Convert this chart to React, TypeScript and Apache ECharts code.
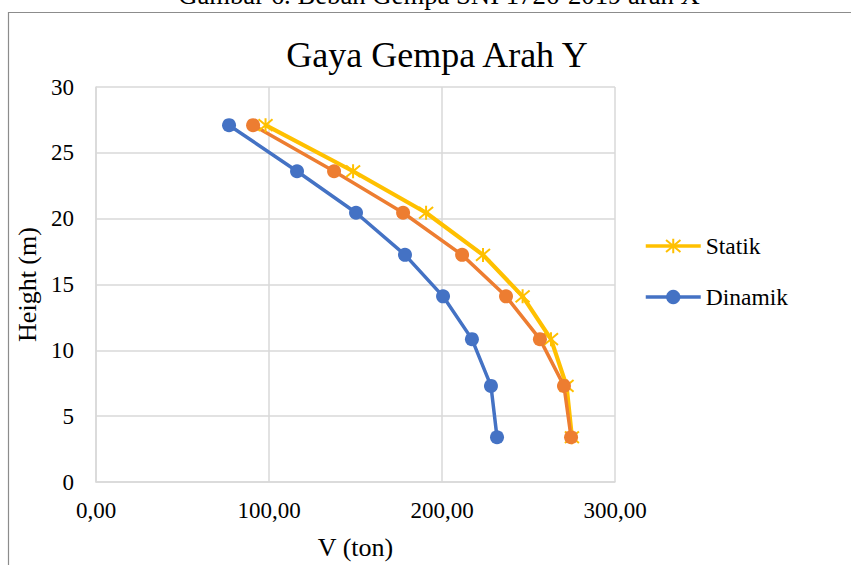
import React, { useEffect, useRef } from "react";
import * as echarts from "echarts";

const heights = [3.4, 7.3, 10.85, 14.1, 17.25, 20.45, 23.6, 27.1];
const statik = [275.1, 272.0, 263.0, 246.6, 223.7, 190.8, 148.6, 98.0];
const respons = [274.6, 270.5, 256.6, 237.0, 211.6, 177.5, 137.6, 90.8];
const dinamik = [231.8, 228.3, 217.3, 200.6, 178.6, 150.3, 116.2, 76.9];

const chartTitle = "Gaya Gempa Arah Y";
const captionText = "Gambar 6. Beban Gempa SNI 1726-2019 arah X";
const xName = "V (ton)";
const yName = "Height (m)";

const FONT = "Liberation Serif";

const pairs = (xs: number[]) => xs.map((v, i) => [v, heights[i]]);

export default function App() {
  const ref = useRef<HTMLDivElement>(null);
  useEffect(() => {
    document.body.style.margin = "0";
    const chart = echarts.init(ref.current!, null, { renderer: "svg" });
    const star = "path://M0,0L10,10M10,0L0,10M5,-1L5,11";
    const legendBase = {
      left: 644,
      orient: "vertical",
      padding: 0,
      itemWidth: 55,
      itemHeight: 18,
      textStyle: { fontFamily: FONT, fontSize: 23.5, color: "#000", lineHeight: 24 },
      lineStyle: { width: 3.5 },
      selectedMode: false,
    };
    chart.setOption({
      animation: false,
      backgroundColor: "#ffffff",
      textStyle: { fontFamily: FONT },
      grid: { left: 96, top: 87, width: 519, height: 402, containLabel: false },
      graphic: [
        {
          type: "rect",
          shape: { x: 8.5, y: 12.5, width: 1000, height: 1000 },
          style: { fill: "none", stroke: "#8c8c8c", lineWidth: 1.2 },
          silent: true,
        },
        {
          type: "text",
          x: 439,
          y: -5,
          style: {
            text: captionText,
            font: `26.7px ${FONT}`,
            fill: "#000",
            align: "center",
            verticalAlign: "middle",
          },
        },
        {
          type: "text",
          x: 437,
          y: 55,
          style: {
            text: chartTitle,
            font: `36px ${FONT}`,
            fill: "#000",
            align: "center",
            verticalAlign: "middle",
          },
        },
      ],
      legend: [
        { ...legendBase, data: ["Statik"], top: 234 },
        { ...legendBase, data: ["Dinamik"], top: 285 },
      ],
      xAxis: {
        type: "value",
        min: 0,
        max: 300,
        interval: 100,
        name: xName,
        nameLocation: "middle",
        nameGap: 52,
        nameTextStyle: { fontFamily: FONT, fontSize: 26, color: "#000" },
        axisLine: { show: true, lineStyle: { color: "#d9d9d9", width: 1.5 } },
        axisTick: { show: false },
        splitLine: { show: true, lineStyle: { color: "#d9d9d9", width: 1.5 } },
        axisLabel: {
          fontFamily: FONT,
          fontSize: 23,
          color: "#000",
          margin: 17,
          formatter: (v: number) => v.toFixed(2).replace(".", ","),
        },
      },
      yAxis: {
        type: "value",
        min: 0,
        max: 30,
        interval: 5,
        name: yName,
        nameLocation: "middle",
        nameGap: 51,
        nameRotate: 90,
        nameTextStyle: { fontFamily: FONT, fontSize: 26, color: "#000" },
        axisLine: { show: true, lineStyle: { color: "#d9d9d9", width: 1.5 } },
        axisTick: { show: false },
        splitLine: { show: true, lineStyle: { color: "#d9d9d9", width: 1.5 } },
        axisLabel: { fontFamily: FONT, fontSize: 23, color: "#000", margin: 22 },
      },
      series: [
        {
          name: "Statik",
          type: "line",
          data: pairs(statik),
          symbol: star,
          symbolSize: 14,
          lineStyle: { color: "#FFC000", width: 4.2 },
          itemStyle: { color: "#FFC000", borderColor: "#FFC000", borderWidth: 2 },
        },
        {
          name: "Statik Ekivalen",
          type: "line",
          data: pairs(respons),
          symbol: "circle",
          symbolSize: 14,
          lineStyle: { color: "#ED7D31", width: 3.5 },
          itemStyle: { color: "#ED7D31" },
        },
        {
          name: "Dinamik",
          type: "line",
          data: pairs(dinamik),
          symbol: "circle",
          symbolSize: 14,
          lineStyle: { color: "#4472C4", width: 3.5 },
          itemStyle: { color: "#4472C4" },
        },
      ],
    });
    return () => chart.dispose();
  }, []);
  return <div ref={ref} style={{ width: 851, height: 565 }} />;
}
